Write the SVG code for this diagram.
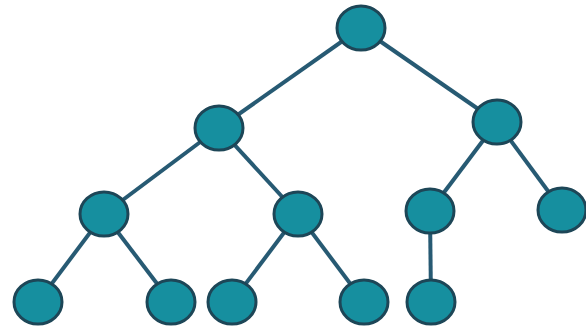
<svg xmlns="http://www.w3.org/2000/svg" width="586" height="332" viewBox="0 0 586 332">
<style>
.n{fill:#168f9f;stroke:#1d4657;stroke-width:3}
.e{stroke:#275a73;stroke-width:4;fill:none}
</style>
<rect width="586" height="332" fill="#ffffff"/>
<g id="edges">
<line class="e" x1="361" y1="28" x2="219" y2="128"/>
<line class="e" x1="361" y1="28" x2="497" y2="122"/>
<line class="e" x1="219" y1="128" x2="104" y2="214"/>
<line class="e" x1="219" y1="128" x2="298" y2="214"/>
<line class="e" x1="497" y1="122" x2="430" y2="211"/>
<line class="e" x1="497" y1="122" x2="562" y2="210"/>
<line class="e" x1="104" y1="214" x2="38" y2="302"/>
<line class="e" x1="104" y1="214" x2="171" y2="302"/>
<line class="e" x1="298" y1="214" x2="232" y2="302"/>
<line class="e" x1="298" y1="214" x2="364" y2="302"/>
<line class="e" x1="430" y1="211" x2="431" y2="302"/>
</g>
<g id="n1"><ellipse class="n" cx="361" cy="28" rx="24" ry="22"/></g>
<g id="n2"><ellipse class="n" cx="219" cy="128" rx="24" ry="22"/></g>
<g id="n3"><ellipse class="n" cx="497" cy="122" rx="24" ry="22"/></g>
<g id="n4"><ellipse class="n" cx="104" cy="214" rx="24" ry="22"/></g>
<g id="n5"><ellipse class="n" cx="298" cy="214" rx="24" ry="22"/></g>
<g id="n6"><ellipse class="n" cx="430" cy="211" rx="24" ry="22"/></g>
<g id="n7"><ellipse class="n" cx="562" cy="210" rx="24" ry="22"/></g>
<g id="n8"><ellipse class="n" cx="38" cy="302" rx="24" ry="22"/></g>
<g id="n9"><ellipse class="n" cx="171" cy="302" rx="24" ry="22"/></g>
<g id="n10"><ellipse class="n" cx="232" cy="302" rx="24" ry="22"/></g>
<g id="n11"><ellipse class="n" cx="364" cy="302" rx="24" ry="22"/></g>
<g id="n12"><ellipse class="n" cx="431" cy="302" rx="24" ry="22"/></g>
</svg>
